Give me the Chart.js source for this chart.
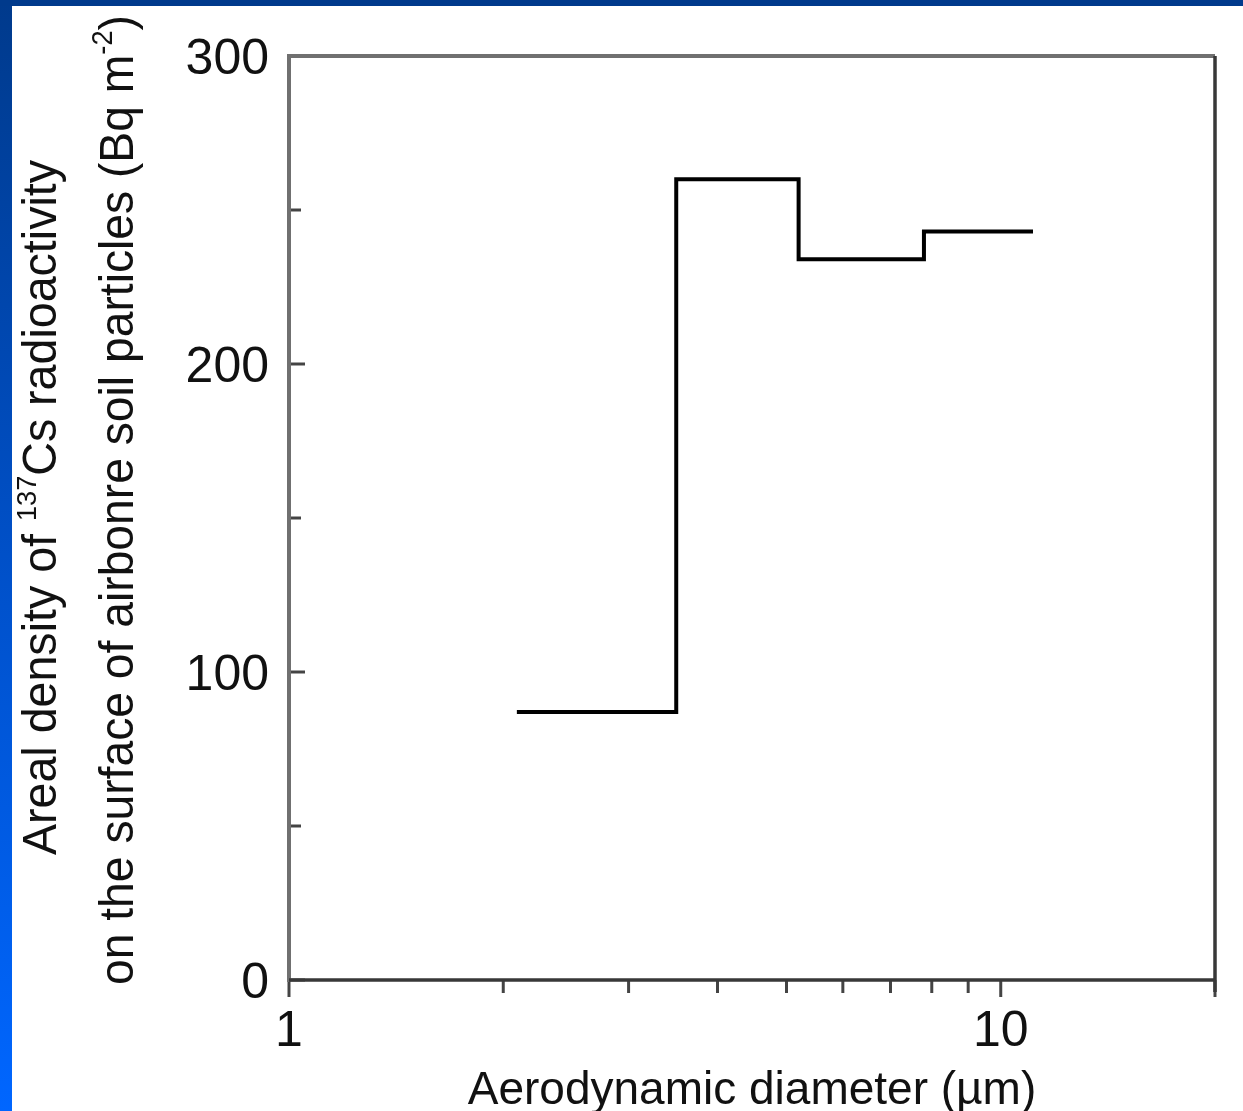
<!DOCTYPE html>
<html>
<head>
<meta charset="utf-8">
<script src="https://cdn.jsdelivr.net/npm/chart.js@4/dist/chart.umd.min.js"></script>
<style>
  html, body { margin: 0; padding: 0; }
  body { width: 1243px; height: 1111px; overflow: hidden; position: relative;
         background: linear-gradient(to bottom, #003a8c 0%, #0050c8 50%, #0066ff 100%); }
  #topbar { position: absolute; left: 0; top: 0; width: 1243px; height: 6px; background: #003a8c; }
  #wrap { position: absolute; left: 12px; top: 6px; width: 1231px; height: 1105px; background: #ffffff; }
  canvas { display: block; }
</style>
</head>
<body>
<div id="topbar"></div>
<div id="wrap"><canvas id="c" width="1231" height="1105"></canvas></div>
<script>
// ---- data ----
const binEdges = [2.09, 3.5, 5.2, 7.8, 11.1];      // aerodynamic diameter bin edges (µm)
const binValues = [87, 260, 234, 243];             // areal density (Bq m^-2) per bin
const xTickValues = [1, 2, 3, 4, 5, 6, 7, 8, 9, 10, 20];
const xTickLabels = ['1', '', '', '', '', '', '', '', '', '10', ''];
const yTickValues = [0, 50, 100, 150, 200, 250, 300];
const yTickLabels = ['0', '', '100', '', '200', '', '300'];
const xTitle = 'Aerodynamic diameter (\u00b5m)';
const yTitle1 = [['Areal density of ', 0], ['137', 1], ['Cs radioactivity', 0]];
const yTitle2 = [['on the surface of airbonre soil particles (Bq m', 0], ['-2', 1], [')', 0]];

// step points built from bins
const stepPoints = binValues.map((v, i) => ({ x: binEdges[i], y: v }));
stepPoints.push({ x: binEdges[binEdges.length - 1], y: binValues[binValues.length - 1] });

const FONT = '"Liberation Sans", Arial, sans-serif';
const INK = '#111111';

function drawRich(ctx, parts, x, yStart, targetLen, size, supSize, supRaise) {
  ctx.save();
  let total = 0;
  parts.forEach(p => {
    ctx.font = (p[1] ? supSize : size) + 'px ' + FONT;
    total += ctx.measureText(p[0]).width;
  });
  const sx = targetLen / total;
  ctx.translate(x, yStart);
  ctx.rotate(-Math.PI / 2);
  ctx.scale(sx, 1);
  ctx.fillStyle = INK;
  ctx.textBaseline = 'alphabetic';
  ctx.textAlign = 'left';
  let cx = 0;
  parts.forEach(p => {
    ctx.font = (p[1] ? supSize : size) + 'px ' + FONT;
    ctx.fillText(p[0], cx, p[1] ? -supRaise : 0);
    cx += ctx.measureText(p[0]).width;
  });
  ctx.restore();
}

const framePlugin = {
  id: 'frame',
  afterDatasetsDraw(chart) {
    const ctx = chart.ctx;
    const a = chart.chartArea;
    const xs = chart.scales.x, ys = chart.scales.y;
    ctx.save();
    ctx.lineCap = 'butt';
    // tick marks on x (outside, downward)
    ctx.strokeStyle = '#444';
    ctx.lineWidth = 3;
    xs.ticks.forEach(t => {
      const px = xs.getPixelForValue(t.value);
      const major = (t.value === 1 || t.value === 10 || t.value === 20);
      ctx.beginPath();
      ctx.moveTo(px, a.bottom);
      ctx.lineTo(px, a.bottom + (major ? 17 : 13));
      ctx.stroke();
    });
    // tick marks on y (inside, rightward)
    ys.ticks.forEach(t => {
      const py = ys.getPixelForValue(t.value);
      const major = (t.value % 100 === 0);
      ctx.beginPath();
      ctx.moveTo(a.left, py);
      ctx.lineTo(a.left + (major ? 16 : 12), py);
      ctx.stroke();
    });
    // frame
    ctx.lineWidth = 4;
    ctx.strokeStyle = '#707070';
    ctx.beginPath();
    ctx.moveTo(a.left, a.bottom + 2);
    ctx.lineTo(a.left, a.top);
    ctx.lineTo(a.right, a.top);
    ctx.stroke();
    ctx.strokeStyle = '#383838';
    ctx.lineWidth = 3.5;
    ctx.beginPath();
    ctx.moveTo(a.left, a.bottom);
    ctx.lineTo(a.right, a.bottom);
    ctx.moveTo(a.right, a.bottom + 12);
    ctx.lineTo(a.right, a.top);
    ctx.stroke();
    ctx.restore();

    // axis titles
    ctx.save();
    ctx.fillStyle = INK;
    ctx.font = '46px ' + FONT;
    ctx.textAlign = 'center';
    ctx.textBaseline = 'alphabetic';
    ctx.fillText(xTitle, (a.left + a.right) / 2, 1098);
    ctx.restore();
    drawRich(ctx, yTitle1, 44, 849, 695, 48, 28, 20);
    drawRich(ctx, yTitle2, 121, 979, 970, 49, 29, 21);
  }
};

new Chart(document.getElementById('c'), {
  type: 'line',
  data: {
    datasets: [{
      data: stepPoints,
      stepped: true,
      borderColor: '#000000',
      borderWidth: 4,
      pointRadius: 0,
      fill: false,
      borderCapStyle: 'butt'
    }]
  },
  options: {
    responsive: false,
    animation: false,
    layout: { padding: { top: 48, right: 28, left: 0, bottom: 0 } },
    plugins: { legend: { display: false }, tooltip: { enabled: false } },
    scales: {
      x: {
        type: 'logarithmic',
        min: 1, max: 20,
        afterFit(s) { s.height = 131; },
        afterBuildTicks(s) { s.ticks = xTickValues.map(v => ({ value: v })); },
        grid: { display: false, drawTicks: false },
        border: { display: false },
        ticks: {
          autoSkip: false, maxRotation: 0, padding: 22,
          color: INK, font: { family: FONT, size: 50 },
          callback(v) { const i = xTickValues.indexOf(v); return i >= 0 ? xTickLabels[i] : ''; }
        }
      },
      y: {
        type: 'linear',
        min: 0, max: 300,
        afterFit(s) { s.width = 277; },
        afterBuildTicks(s) { s.ticks = yTickValues.map(v => ({ value: v })); },
        grid: { display: false, drawTicks: false },
        border: { display: false },
        ticks: {
          autoSkip: false, padding: 20, labelOffset: 4,
          color: INK, font: { family: FONT, size: 50 },
          callback(v) { const i = yTickValues.indexOf(v); return i >= 0 ? yTickLabels[i] : ''; }
        }
      }
    }
  },
  plugins: [framePlugin]
});
</script>
</body>
</html>
